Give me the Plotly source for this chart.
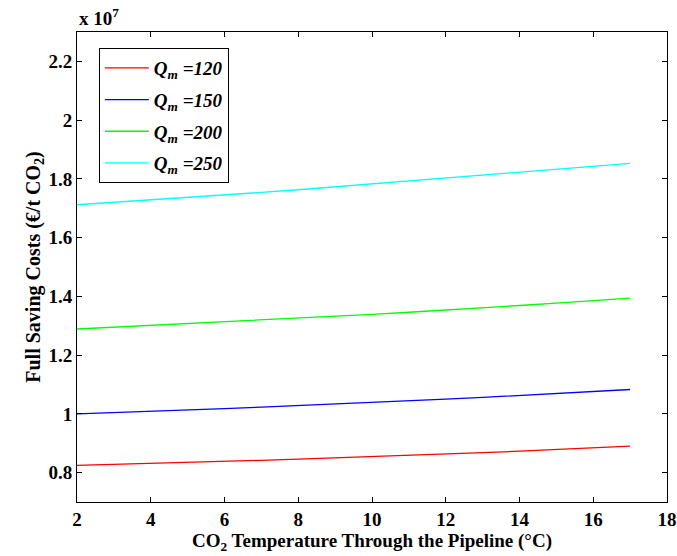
import plotly.graph_objects as go

# CO2 temperature through the pipeline (°C)
temperature = [2, 3, 4, 5, 6, 7, 8, 9, 10, 11, 12, 13, 14, 15, 16, 17]

# Full saving costs, in units of 10^7 €/t CO2
cost_q120 = [0.825, 0.828, 0.832, 0.835, 0.839, 0.842, 0.846, 0.850, 0.854, 0.858, 0.863, 0.868, 0.873, 0.879, 0.884, 0.890]
cost_q150 = [1.000, 1.004, 1.009, 1.013, 1.018, 1.023, 1.028, 1.033, 1.038, 1.044, 1.050, 1.056, 1.063, 1.069, 1.076, 1.083]
cost_q200 = [1.289, 1.295, 1.301, 1.307, 1.313, 1.319, 1.325, 1.332, 1.339, 1.346, 1.353, 1.361, 1.369, 1.377, 1.385, 1.394]
cost_q250 = [1.712, 1.720, 1.728, 1.736, 1.745, 1.754, 1.763, 1.773, 1.783, 1.792, 1.801, 1.811, 1.821, 1.832, 1.842, 1.853]

series_names = ["<i>Q<sub>m</sub> =120</i>", "<i>Q<sub>m</sub> =150</i>",
                "<i>Q<sub>m</sub> =200</i>", "<i>Q<sub>m</sub> =250</i>"]
series_values = [cost_q120, cost_q150, cost_q200, cost_q250]
series_colors = ["#ff0000", "#0000ff", "#00ff00", "#00ffff"]

x_ticks = [2, 4, 6, 8, 10, 12, 14, 16, 18]
y_ticks = [0.8, 1.0, 1.2, 1.4, 1.6, 1.8, 2.0, 2.2]
y_tick_labels = ["0.8", "1", "1.2", "1.4", "1.6", "1.8", "2", "2.2"]

FONT = "Liberation Serif"

fig = go.Figure()
for name, vals, col in zip(series_names, series_values, series_colors):
    fig.add_trace(go.Scatter(x=temperature, y=vals, mode="lines", name=name,
                             line=dict(color=col, width=1.3), legendgroup=name))

axis_common = dict(showline=True, linecolor="black", linewidth=1, mirror="ticks",
                   ticks="inside", ticklen=5, tickcolor="black", showgrid=False,
                   zeroline=False, automargin=False,
                   tickfont=dict(family=FONT, size=19, color="black", weight="bold"))

fig.update_xaxes(range=[2, 18], tickvals=x_ticks,
                 title=dict(text="CO<sub>2</sub> Temperature Through the Pipeline (°C)",
                            font=dict(family=FONT, size=19, color="black", weight="bold"),
                            standoff=2),
                 **axis_common)
fig.update_yaxes(range=[0.7, 2.3], tickvals=y_ticks, ticktext=y_tick_labels,
                 title=dict(text="Full Saving Costs (€/t CO<sub>2</sub>)",
                            font=dict(family=FONT, size=20, color="black", weight="bold"),
                            standoff=2),
                 **axis_common)

fig.add_annotation(text="x 10<sup>7</sup>", xref="paper", yref="paper",
                   x=0, y=1, xanchor="left", yanchor="bottom", yshift=1,
                   showarrow=False,
                   font=dict(family=FONT, size=19, color="black", weight="bold"))

fig.update_layout(
    width=677, height=556,
    margin=dict(l=77, r=10, t=32, b=54),
    paper_bgcolor="white", plot_bgcolor="white",
    showlegend=True,
    legend=dict(x=0.037, y=0.966, xanchor="left", yanchor="top",
                bgcolor="white", bordercolor="black", borderwidth=1,
                tracegroupgap=4, itemwidth=44,
                font=dict(family=FONT, size=19, color="black", weight="bold")),
)

# remove the browser's default page margin so the figure fills the window exactly
fig.write_html("out.html",
               config={"displayModeBar": False},
               post_script="document.body.style.margin='0';document.body.style.overflow='hidden';")
